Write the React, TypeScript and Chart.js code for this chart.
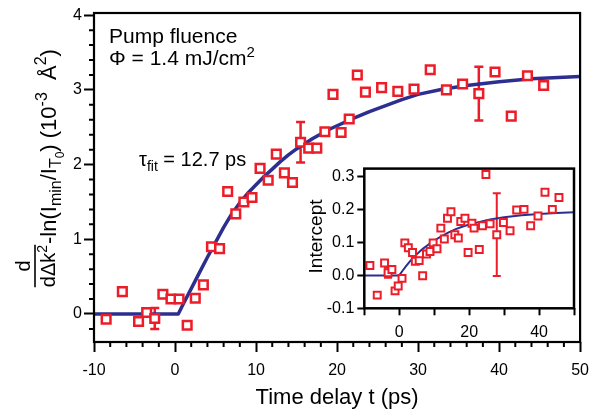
import React, { useEffect, useRef } from 'react';
import { Chart, registerables } from 'chart.js';

Chart.register(...registerables);

const FONT = '"Liberation Sans", Arial, Helvetica, sans-serif';
const RED = '#ec1c28';
const NAVY = '#2c2f8f';

// ---- main panel data ----
const delayT = [-8.5, -6.5, -4.5, -3.5, -2.5, -1.5, -0.5, 0.5, 1.5, 2.5, 3.5, 4.5, 5.5, 6.5, 7.5, 8.5, 9.5, 10.5, 11.5, 12.5, 13.5, 14.5, 15.5, 16.5, 17.5, 18.5, 19.5, 20.5, 21.5, 22.5, 23.5, 25.5, 27.5, 29.5, 31.5, 33.5, 35.5, 37.5, 39.5, 41.5, 43.5, 45.5];
const slopeVal = [-0.07, 0.30, -0.10, 0.02, -0.06, 0.265, 0.20, 0.20, -0.15, 0.21, 0.39, 0.90, 0.875, 1.64, 1.34, 1.50, 1.56, 1.95, 1.79, 2.14, 1.89, 1.76, 2.30, 2.22, 2.22, 2.44, 2.94, 2.43, 2.61, 3.20, 2.97, 3.03, 2.98, 3.01, 3.27, 3.00, 3.08, 2.95, 3.24, 2.65, 3.19, 3.06];
const slopeErrIndex = [4, 22, 37];
const slopeErrSize = [0.14, 0.27, 0.36];
const fitT = [-10, 0.4, 1, 2, 3, 4, 5, 6, 7, 8, 9, 10, 11, 12, 13, 14, 15, 16, 17, 18, 19, 20, 22, 24, 26, 28, 30, 33, 36, 40, 44, 50];
const fitVal = [0, 0, 0.13, 0.34, 0.55, 0.76, 0.96, 1.16, 1.34, 1.49, 1.62, 1.73, 1.84, 1.94, 2.04, 2.13, 2.21, 2.28, 2.35, 2.41, 2.47, 2.52, 2.62, 2.71, 2.79, 2.87, 2.94, 3.01, 3.06, 3.11, 3.15, 3.18];
const mainXMajor = [-10, 0, 10, 20, 30, 40, 50];
const mainYMajor = [0, 1, 2, 3, 4];

// ---- inset data ----
const insetT = [-8.4, -6.3, -4.2, -3.2, -2.1, -1.2, -0.3, 0.8, 1.6, 2.6, 3.8, 4.6, 5.7, 6.7, 7.8, 8.8, 9.7, 10.8, 11.9, 12.9, 13.8, 14.8, 15.9, 16.9, 17.6, 18.8, 19.7, 20.8, 21.4, 22.9, 23.8, 24.8, 26.0, 27.9, 29.8, 31.7, 33.6, 35.7, 37.6, 39.7, 41.7, 43.8, 45.7];
const interceptVal = [0.030, -0.060, 0.038, 0.008, 0.018, -0.047, -0.032, -0.009, 0.099, 0.084, 0.070, 0.043, 0.045, -0.001, 0.065, 0.073, 0.099, 0.081, 0.144, 0.111, 0.174, 0.194, 0.124, 0.114, 0.164, 0.174, 0.070, 0.159, 0.144, 0.079, 0.151, 0.307, 0.157, 0.124, 0.161, 0.136, 0.199, 0.201, 0.151, 0.181, 0.253, 0.201, 0.237];
const interceptErrIndex = [3, 33];
const interceptErrSize = [0.015, 0.126];
const insetFitT = [-10, 0, 1, 2, 3, 4, 5, 6, 7, 8, 9, 10, 12, 14, 16, 18, 20, 23, 26, 30, 35, 40, 45, 50];
const insetFitVal = [0, 0, 0.015, 0.029, 0.042, 0.054, 0.064, 0.074, 0.083, 0.091, 0.099, 0.106, 0.119, 0.130, 0.140, 0.148, 0.155, 0.163, 0.170, 0.177, 0.183, 0.187, 0.190, 0.192];
const insetXTicks = [-10, 0, 10, 20, 30, 40, 50];
const insetXLabels = [0, 20, 40];
const insetYTicks = [-0.1, 0, 0.1, 0.2, 0.3];

type Part = { t: string; size: number; dy: number };

function partsWidth(ctx: CanvasRenderingContext2D, parts: Part[]) {
  let w = 0;
  for (const p of parts) {
    ctx.font = `${p.size}px ${FONT}`;
    w += ctx.measureText(p.t).width;
  }
  return w;
}

function drawParts(ctx: CanvasRenderingContext2D, parts: Part[], x: number, y: number) {
  let cx = x;
  for (const p of parts) {
    ctx.font = `${p.size}px ${FONT}`;
    ctx.fillText(p.t, cx, y + p.dy);
    cx += ctx.measureText(p.t).width;
  }
  return cx;
}

function errorBarPlugin(xs: number[], ys: number[], idx: number[], sizes: number[], halfCap: number, lw: number) {
  return {
    id: 'errbars',
    beforeDatasetsDraw(chart: any) {
      const { ctx, scales } = chart;
      const x = scales.x, y = scales.y;
      ctx.save();
      ctx.strokeStyle = RED;
      ctx.lineWidth = lw;
      ctx.beginPath();
      idx.forEach((i, k) => {
        const px = x.getPixelForValue(xs[i]);
        const top = y.getPixelForValue(ys[i] + sizes[k]);
        const bot = y.getPixelForValue(ys[i] - sizes[k]);
        ctx.moveTo(px, top); ctx.lineTo(px, bot);
        ctx.moveTo(px - halfCap, top); ctx.lineTo(px + halfCap, top);
        ctx.moveTo(px - halfCap, bot); ctx.lineTo(px + halfCap, bot);
      });
      ctx.stroke();
      ctx.restore();
    },
  };
}

const mainDecor = {
  id: 'mainDecor',
  afterDraw(chart: any) {
    const { ctx, chartArea: a, scales } = chart;
    const x = scales.x, y = scales.y;
    ctx.save();
    ctx.strokeStyle = '#000';
    // minor ticks
    ctx.lineWidth = 2;
    ctx.beginPath();
    for (let v = -10; v <= 50; v += 2) {
      if (mainXMajor.includes(v)) continue;
      const px = x.getPixelForValue(v);
      ctx.moveTo(px, a.bottom); ctx.lineTo(px, a.bottom + 5);
    }
    for (let i = -1; i <= 19; i++) {
      const v = Math.round(i * 2) / 10;
      if (i % 5 === 0) continue;
      const py = y.getPixelForValue(v);
      ctx.moveTo(a.left, py); ctx.lineTo(a.left - 5, py);
    }
    ctx.stroke();
    // frame
    ctx.lineWidth = 2.2;
    ctx.strokeRect(a.left, a.top, a.right - a.left, a.bottom - a.top);

    ctx.fillStyle = '#000';
    ctx.textAlign = 'left';
    ctx.textBaseline = 'alphabetic';
    ctx.font = `21px ${FONT}`;
    ctx.fillText('Pump fluence', 109, 43);
    drawParts(ctx, [{ t: 'Φ = 1.4 mJ/cm', size: 21, dy: 0 }, { t: '2', size: 15, dy: -8 }], 109, 65);
    drawParts(ctx, [{ t: 'τ', size: 20, dy: 0 }, { t: 'fit', size: 14, dy: 5 }, { t: ' = 12.7 ps', size: 20, dy: 0 }], 139, 166);

    // x title
    ctx.font = `22px ${FONT}`;
    ctx.textAlign = 'center';
    ctx.fillText('Time delay t (ps)', (a.left + a.right) / 2, 404);

    // y title (rotated)
    ctx.textAlign = 'left';
    ctx.translate(56, 244);
    ctx.rotate(-Math.PI / 2);
    const mainParts: Part[] = [
      { t: '-ln(', size: 22, dy: 0 },
      { t: 'I', size: 22, dy: 0 },
      { t: 'min', size: 16, dy: 5 },
      { t: '/I', size: 22, dy: 0 },
      { t: 'T', size: 16, dy: 5 },
      { t: '0', size: 12, dy: 8 },
      { t: ') (10', size: 22, dy: 0 },
      { t: '-3', size: 16, dy: -9 },
      { t: '  Å', size: 22, dy: 0 },
      { t: '2', size: 16, dy: -10 },
      { t: ')', size: 22, dy: 0 },
    ];
    drawParts(ctx, mainParts, 0, 0);
    const den: Part[] = [{ t: 'dΔk', size: 20, dy: 0 }, { t: '2', size: 14, dy: -8 }];
    const denW = partsWidth(ctx, den);
    const fc = -22;
    drawParts(ctx, den, fc - denW / 2, -1);
    ctx.font = `20px ${FONT}`;
    ctx.textAlign = 'center';
    ctx.fillText('d', fc, -26);
    ctx.lineWidth = 1.6;
    ctx.beginPath();
    ctx.moveTo(fc - denW / 2, -21);
    ctx.lineTo(fc + denW / 2, -21);
    ctx.stroke();
    ctx.restore();
  },
};

const insetDecor = {
  id: 'insetDecor',
  afterDraw(chart: any) {
    const { ctx, chartArea: a } = chart;
    ctx.save();
    ctx.strokeStyle = '#000';
    ctx.lineWidth = 2.5;
    ctx.strokeRect(a.left, a.top, a.right - a.left, a.bottom - a.top);
    ctx.fillStyle = '#000';
    ctx.font = `19px ${FONT}`;
    ctx.textAlign = 'center';
    ctx.textBaseline = 'middle';
    ctx.translate(21, (a.top + a.bottom) / 2 - 2);
    ctx.rotate(-Math.PI / 2);
    ctx.fillText('Intercept', 0, 0);
    ctx.restore();
  },
};

export default function App() {
  const mainRef = useRef<HTMLCanvasElement>(null);
  const insetRef = useRef<HTMLCanvasElement>(null);

  useEffect(() => {
    document.body.style.margin = '0';
    const tickFont = { family: FONT, size: 16 };

    const main = new Chart(mainRef.current!, {
      type: 'scatter',
      data: {
        datasets: [
          {
            data: delayT.map((t, i) => ({ x: t, y: slopeVal[i] })),
            pointStyle: 'rect',
            pointRadius: 6.1,
            pointBorderWidth: 2.5,
            borderWidth: 2.5,
            pointBorderColor: RED,
            borderColor: RED,
            pointBackgroundColor: '#fff',
            backgroundColor: '#fff',
            showLine: false,
          } as any,
          {
            data: fitT.map((t, i) => ({ x: t, y: fitVal[i] })),
            showLine: true,
            borderColor: NAVY,
            borderWidth: 3.5,
            pointRadius: 0,
            tension: 0,
            borderJoinStyle: 'round',
            fill: false,
          } as any,
        ],
      },
      options: {
        responsive: false,
        animation: false,
        devicePixelRatio: 1,
        events: [],
        layout: { padding: { left: 0, top: 13, right: 15, bottom: 0 } },
        plugins: { legend: { display: false }, tooltip: { enabled: false } },
        scales: {
          x: {
            type: 'linear',
            min: -10,
            max: 50,
            afterBuildTicks: (s: any) => { s.ticks = mainXMajor.map((v) => ({ value: v })); },
            afterFit: (s: any) => { s.height = 68; },
            grid: { display: true, drawOnChartArea: false, drawTicks: true, tickLength: 10, tickWidth: 2, tickColor: '#000' },
            border: { display: false },
            ticks: { font: tickFont, color: '#000', padding: 9, autoSkip: false, maxRotation: 0, callback: (v: any) => String(v) },
          },
          y: {
            type: 'linear',
            min: -0.375,
            max: 4.03,
            afterBuildTicks: (s: any) => { s.ticks = mainYMajor.map((v) => ({ value: v })); },
            afterFit: (s: any) => { s.width = 94; },
            grid: { display: true, drawOnChartArea: false, drawTicks: true, tickLength: 10, tickWidth: 2, tickColor: '#000' },
            border: { display: false },
            ticks: { font: tickFont, color: '#000', padding: 2, autoSkip: false, callback: (v: any) => String(v) },
          },
        },
      } as any,
      plugins: [errorBarPlugin(delayT, slopeVal, slopeErrIndex, slopeErrSize, 4.5, 2.5), mainDecor],
    });

    const inset = new Chart(insetRef.current!, {
      type: 'scatter',
      data: {
        datasets: [
          {
            data: insetT.map((t, i) => ({ x: t, y: interceptVal[i] })),
            pointStyle: 'rect',
            pointRadius: 4.9,
            pointBorderWidth: 2,
            borderWidth: 2,
            pointBorderColor: RED,
            borderColor: RED,
            pointBackgroundColor: '#fff',
            backgroundColor: '#fff',
            showLine: false,
          } as any,
          {
            data: insetFitT.map((t, i) => ({ x: t, y: insetFitVal[i] })),
            showLine: true,
            borderColor: NAVY,
            borderWidth: 2,
            pointRadius: 0,
            tension: 0,
            fill: false,
          } as any,
        ],
      },
      options: {
        responsive: false,
        animation: false,
        devicePixelRatio: 1,
        events: [],
        layout: { padding: { left: 0, top: 12.3, right: 7.7, bottom: 0 } },
        plugins: { legend: { display: false }, tooltip: { enabled: false } },
        scales: {
          x: {
            type: 'linear',
            min: -10,
            max: 50,
            afterBuildTicks: (s: any) => { s.ticks = insetXTicks.map((v) => ({ value: v })); },
            afterFit: (s: any) => { s.height = 37.7; },
            grid: { display: true, drawOnChartArea: false, drawTicks: true, tickLength: 7, tickWidth: 2, tickColor: '#000' },
            border: { display: false },
            ticks: { font: tickFont, color: '#000', padding: 8, autoSkip: false, maxRotation: 0, callback: (v: any) => (insetXLabels.includes(v) ? String(v) : '') },
          },
          y: {
            type: 'linear',
            min: -0.1,
            max: 0.325,
            afterBuildTicks: (s: any) => { s.ticks = insetYTicks.map((v) => ({ value: v })); },
            afterFit: (s: any) => { s.width = 68.3; },
            grid: { display: true, drawOnChartArea: false, drawTicks: true, tickLength: 7, tickWidth: 2, tickColor: '#000' },
            border: { display: false },
            ticks: { font: tickFont, color: '#000', padding: 3, autoSkip: false, callback: (v: any) => Number(v).toFixed(1) },
          },
        },
      } as any,
      plugins: [errorBarPlugin(insetT, interceptVal, interceptErrIndex, interceptErrSize, 4, 2), insetDecor],
    });

    return () => {
      main.destroy();
      inset.destroy();
    };
  }, []);

  return (
    <div style={{ position: 'relative', width: 598, height: 410, background: '#fff' }}>
      <canvas ref={mainRef} width={598} height={410} style={{ position: 'absolute', left: 0, top: 0 }} />
      <canvas ref={insetRef} width={286} height={190} style={{ position: 'absolute', left: 296, top: 156 }} />
    </div>
  );
}
